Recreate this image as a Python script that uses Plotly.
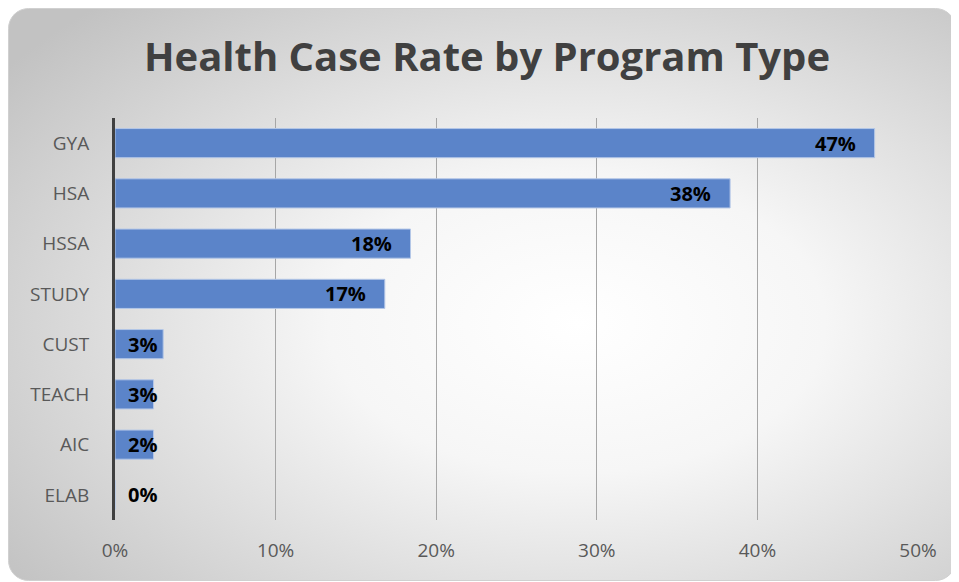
import base64
import plotly.graph_objects as go

categories = ["GYA", "HSA", "HSSA", "STUDY", "CUST", "TEACH", "AIC", "ELAB"]
values = [47.3, 38.3, 18.4, 16.8, 3.0, 2.4, 2.4, 0.0]
labels = ["47%", "38%", "18%", "17%", "3%", "3%", "2%", "0%"]
tick_vals = [0, 10, 20, 30, 40, 50]
tick_text = ["0%", "10%", "20%", "30%", "40%", "50%"]

W, H = 948, 573
ML, MT = 107, 110
PW, PH = 803, 402
MR, MB = W - ML - PW, H - MT - PH

svg = f'''<svg xmlns="http://www.w3.org/2000/svg" width="{W}" height="{H}" viewBox="0 0 {W} {H}">
<defs><radialGradient id="g" cx="0.6" cy="0.55" r="0.75" gradientUnits="objectBoundingBox">
<stop offset="0" stop-color="#ffffff"/><stop offset="0.35" stop-color="#f6f6f6"/>
<stop offset="1" stop-color="#c2c2c2"/></radialGradient></defs>
<rect x="0.5" y="0.5" width="{W-1}" height="{H-1}" rx="20" ry="20" fill="url(#g)" stroke="#d0d0d0" stroke-width="1"/>
</svg>'''
src = "data:image/svg+xml;base64," + base64.b64encode(svg.encode()).decode()

fig = go.Figure()
fig.add_trace(go.Bar(
    y=categories, x=values, orientation="h", width=0.58,
    marker=dict(color="#5b84c9", line=dict(color="#b4c7e7", width=1)),
    hoverinfo="skip",
))

px_per_unit = PW / 50.0
for c, v, t in zip(categories, values, labels):
    xr = max(v - 17 / px_per_unit, 2.75)
    fig.add_annotation(x=xr, y=c, text=f"<b>{t}</b>", showarrow=False,
                       xanchor="right", yanchor="middle",
                       font=dict(family="Open Sans", size=20, color="#000000"))

fig.add_layout_image(dict(
    source=src, xref="paper", yref="paper",
    x=-ML / PW, y=1 + MT / PH, sizex=W / PW, sizey=H / PH,
    xanchor="left", yanchor="top", sizing="stretch", layer="below",
))

fig.update_layout(
    width=W, height=H,
    margin=dict(l=ML, r=MR, t=MT, b=MB, pad=0),
    paper_bgcolor="rgba(0,0,0,0)", plot_bgcolor="rgba(0,0,0,0)",
    showlegend=False,
    title=dict(text="<b>Health Case Rate by Program Type</b>", x=(487 - 8) / W, xanchor="center",
               xref="container", yref="container", y=1 - 49 / H, yanchor="middle",
               font=dict(family="Open Sans", size=40, color="#404040")),
    xaxis=dict(range=[0, 50], tickvals=tick_vals, ticktext=tick_text,
               showgrid=True, gridcolor="#a6a6a6", gridwidth=1, zeroline=False,
               showline=False, ticks="", ticklabelstandoff=17,
               tickfont=dict(family="Open Sans", size=19, color="#595959"), fixedrange=True),
    yaxis=dict(categoryorder="array", categoryarray=categories[::-1],
               showgrid=False, zeroline=False, showline=True, linecolor="#404040", linewidth=3,
               ticks="", ticklabelstandoff=19,
               tickfont=dict(family="Open Sans", size=19, color="#595959"), fixedrange=True),
)

fig.write_html("out.html")
